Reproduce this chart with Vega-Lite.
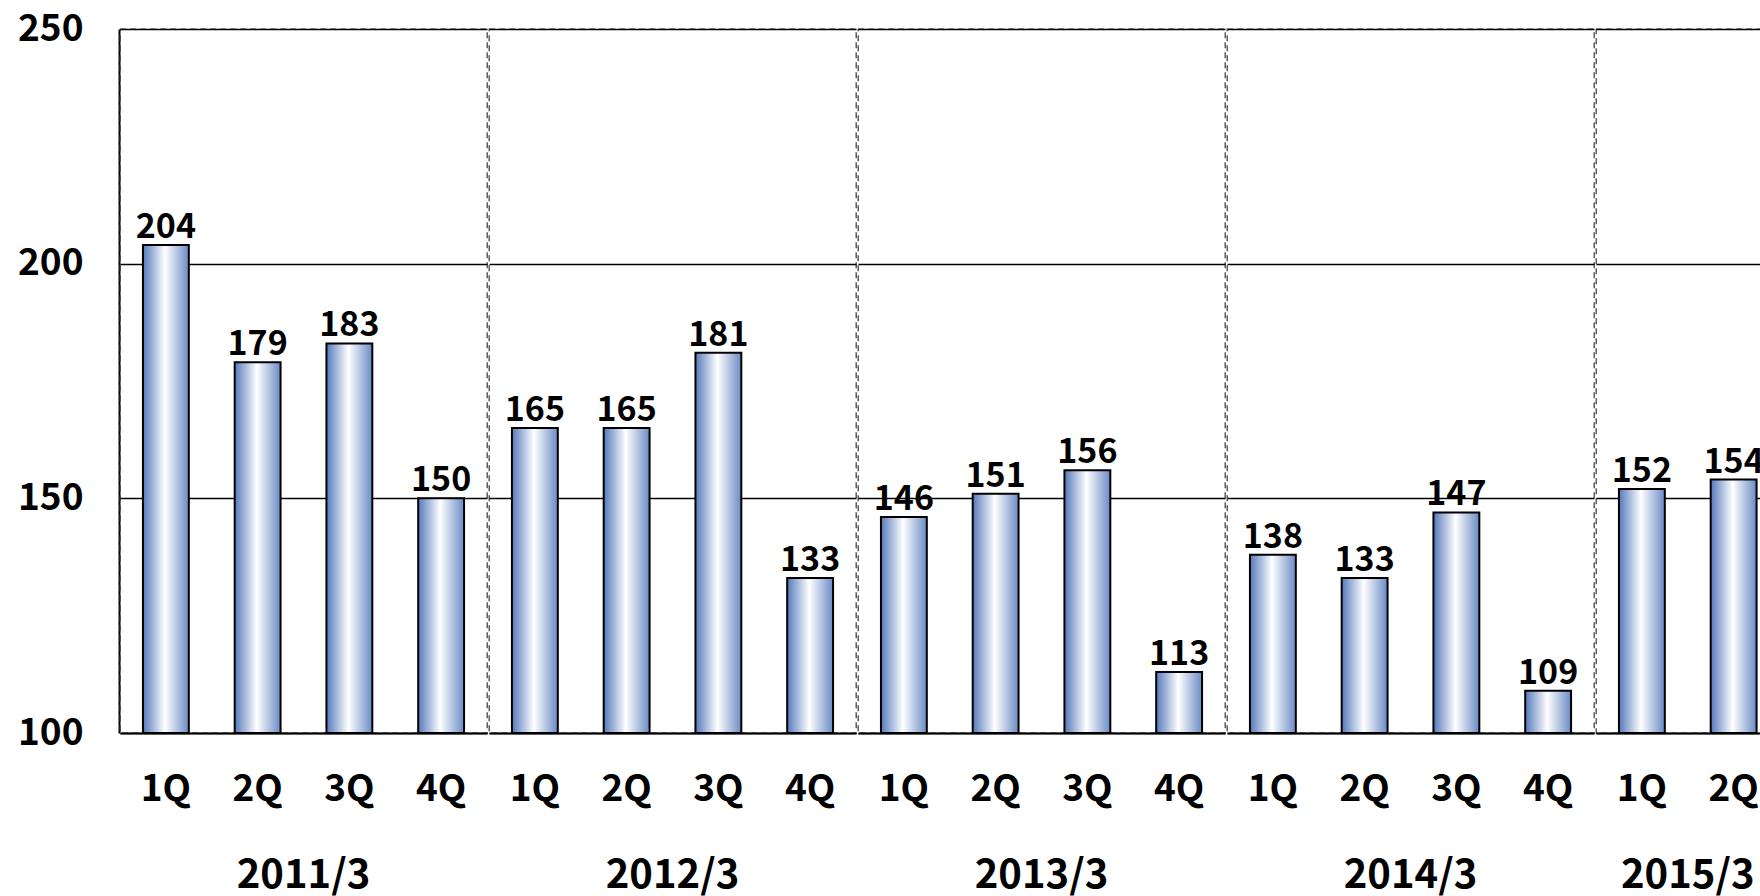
{
  "$schema": "https://vega.github.io/schema/vega-lite/v6.json",
  "padding": {"left": 17, "top": 10, "right": 0, "bottom": 0},
  "data": {
    "values": [
      {"fy": "2011/3", "q": "1Q", "v": 204},
      {"fy": "2011/3", "q": "2Q", "v": 179},
      {"fy": "2011/3", "q": "3Q", "v": 183},
      {"fy": "2011/3", "q": "4Q", "v": 150},
      {"fy": "2012/3", "q": "1Q", "v": 165},
      {"fy": "2012/3", "q": "2Q", "v": 165},
      {"fy": "2012/3", "q": "3Q", "v": 181},
      {"fy": "2012/3", "q": "4Q", "v": 133},
      {"fy": "2013/3", "q": "1Q", "v": 146},
      {"fy": "2013/3", "q": "2Q", "v": 151},
      {"fy": "2013/3", "q": "3Q", "v": 156},
      {"fy": "2013/3", "q": "4Q", "v": 113},
      {"fy": "2014/3", "q": "1Q", "v": 138},
      {"fy": "2014/3", "q": "2Q", "v": 133},
      {"fy": "2014/3", "q": "3Q", "v": 147},
      {"fy": "2014/3", "q": "4Q", "v": 109},
      {"fy": "2015/3", "q": "1Q", "v": 152},
      {"fy": "2015/3", "q": "2Q", "v": 154}
    ]
  },
  "facet": {
    "column": {
      "field": "fy",
      "type": "ordinal",
      "sort": ["2011/3", "2012/3", "2013/3", "2014/3", "2015/3"],
      "header": {
        "title": null,
        "orient": "bottom",
        "labelOrient": "bottom",
        "labelFont": "Noto Sans CJK JP",
        "labelFontSize": 40,
        "labelFontWeight": "bold",
        "labelColor": "#000000",
        "labelPadding": 48
      }
    }
  },
  "spacing": 0,
  "resolve": {"scale": {"x": "independent"}},
  "spec": {
    "width": {"step": 91.75},
    "height": 704,
    "encoding": {
      "x": {
        "field": "q",
        "type": "ordinal",
        "sort": ["1Q", "2Q", "3Q", "4Q"],
        "scale": {"paddingInner": 0.5, "paddingOuter": 0.25},
        "axis": {
          "title": null,
          "labelAngle": 0,
          "ticks": false,
          "domain": true,
          "domainColor": "#000000",
          "domainWidth": 2,
          "labelFont": "Noto Sans CJK JP",
          "labelFontSize": 37,
          "labelFontWeight": "bold",
          "labelColor": "#000000",
          "labelPadding": 38
        }
      },
      "y": {
        "field": "v",
        "type": "quantitative",
        "scale": {"domain": [100, 250], "nice": false, "zero": false},
        "axis": {
          "title": null,
          "values": [100, 150, 200, 250],
          "ticks": false,
          "domain": true,
          "domainColor": "#000000",
          "domainWidth": 2,
          "grid": true,
          "gridColor": "#000000",
          "gridWidth": 1.5,
          "labelFont": "Noto Sans CJK JP",
          "labelFontSize": 37,
          "labelFontWeight": "bold",
          "labelColor": "#000000",
          "labelPadding": 36
        }
      }
    },
    "layer": [
      {
        "mark": {
          "type": "bar",
          "stroke": "#000000",
          "strokeWidth": 2,
          "fill": {
            "gradient": "linear",
            "x1": 0, "x2": 1, "y1": 0, "y2": 0,
            "stops": [
              {"offset": 0, "color": "#5479bb"},
              {"offset": 0.48, "color": "#ffffff"},
              {"offset": 1, "color": "#6a8bc5"}
            ]
          }
        },
        "encoding": {"y2": {"datum": 100}}
      },
      {
        "mark": {
          "type": "text",
          "baseline": "alphabetic",
          "dy": -7,
          "font": "Noto Sans CJK JP",
          "fontSize": 34,
          "fontWeight": "bold",
          "color": "#000000"
        },
        "encoding": {"text": {"field": "v", "type": "quantitative"}}
      }
    ]
  },
  "config": {
    "font": "Noto Sans CJK JP",
    "view": {"stroke": "#444444", "strokeWidth": 1.3, "strokeDash": [6, 4]},
    "background": "#ffffff"
  }
}
